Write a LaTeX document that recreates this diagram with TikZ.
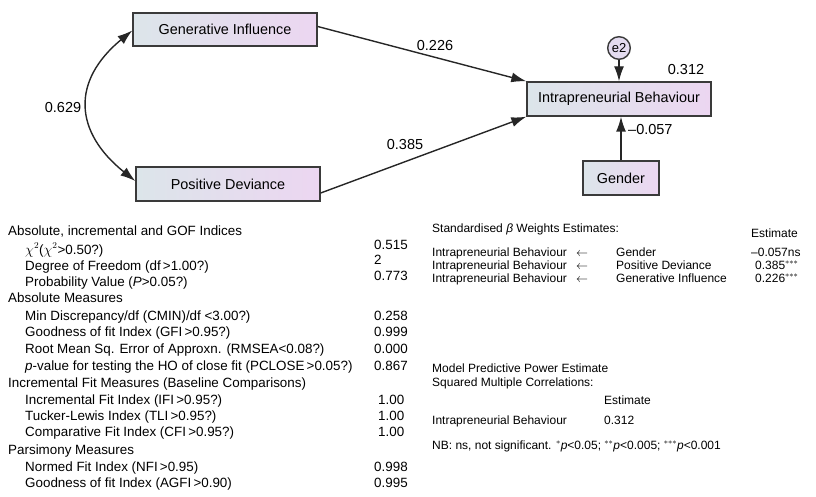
\documentclass[tikz,border=0pt]{standalone}
\usepackage{fontspec}
\setmainfont{Liberation Sans}
\usetikzlibrary{arrows.meta,calc}
\definecolor{boxL}{HTML}{DCE5EA}
\definecolor{boxR}{HTML}{ECD6F1}
\definecolor{edge}{HTML}{3A3A3A}
\definecolor{errfill}{HTML}{E4DCF0}
\tikzset{
  var/.style={draw=edge, line width=1.4pt, left color=boxL, right color=boxR, inner sep=0pt, font=\fontsize{14.4}{16}\selectfont},
  err/.style={draw=edge, line width=1.4pt, circle, fill=errfill, minimum size=22.6pt, inner sep=0pt, font=\fontsize{13}{14}\selectfont},
  path/.style={draw=black!85, line width=1.4pt, -{Latex[length=15pt,width=10pt]}},
  coef/.style={font=\fontsize{14.5}{16}\selectfont, inner sep=0pt},
  tl/.style={anchor=base west, inner sep=0pt, font=\fontsize{13.4}{15}\selectfont},
  tr/.style={anchor=base west, inner sep=0pt, font=\fontsize{12}{13}\selectfont},
}
\begin{document}
\begin{tikzpicture}[x=1pt,y=-1pt]
\useasboundingbox (0,0) rectangle (816,497);
% boxes
\node[var, minimum width=184pt, minimum height=33pt] (GI) at (225,29.5) {Generative Influence};
\node[var, minimum width=184pt, minimum height=34pt] (PD) at (228,184) {Positive Deviance};
\node[var, minimum width=184pt, minimum height=34pt] (IB) at (619,99) {Intrapreneurial Behaviour};
\node[var, minimum width=76pt, minimum height=34pt] (G) at (621,178) {Gender};
\node[err] (e2) at (619,48) {e2};
% paths
\draw[path] ([yshift=3pt]GI.east) -- (IB.north west);
\draw[path] ([yshift=-9pt]PD.east) -- (IB.south west);
\draw[path] (e2) -- (e2 |- IB.north);
\draw[path] (G) -- (G |- IB.south);
\draw[draw=black!85, line width=1.4pt, {Latex[length=15pt,width=10pt]}-{Latex[length=15pt,width=10pt]}]
  ([yshift=-1pt]GI.west) .. controls (71,81) and (74,132) .. ([yshift=3pt]PD.west);
% coefficients
\node[coef] (c1) at (63,108) {0.629};
\node[coef] (c2) at (435,46) {0.226};
\node[coef] (c3) at (405,145) {0.385};
\node[coef] (c4) at (686,70) {0.312};
\node[coef, anchor=west] (c5) at (628,130) {\textendash0.057};
% left table
\node[tl] (h1) at (8,235) {Absolute, incremental and GOF Indices};
\node[tl] (r1) at (25,254) {$\chi^2$($\chi^2$>0.50?)};
\node[tl] (r2) at (25,270) {Degree of Freedom (df\,>1.00?)};
\node[tl] (r3) at (25,286) {Probability Value (\textit{P}>0.05?)};
\node[tl] (v1) at (374,249) {0.515};
\node[tl] (v2) at (374,264) {2};
\node[tl] (v3) at (374,280) {0.773};
\node[tl] (h2) at (8,302) {Absolute Measures};
\node[tl] (r4) at (25,320) {Min Discrepancy/df (CMIN)/df <3.00?)};
\node[tl] (r5) at (25,336) {Goodness of fit Index (GFI\,>0.95?)};
\node[tl] (r6) at (25,353) {Root Mean Sq. Error of Approxn. (RMSEA<0.08?)};
\node[tl] (r7) at (25,370) {\textit{p}-value for testing the HO of close fit (PCLOSE\,>0.05?)};
\node[tl] (v4) at (374,320) {0.258};
\node[tl] (v5) at (374,336) {0.999};
\node[tl] (v6) at (374,353) {0.000};
\node[tl] (v7) at (374,370) {0.867};
\node[tl] (h3) at (8,387) {Incremental Fit Measures (Baseline Comparisons)};
\node[tl] (r8) at (25,404) {Incremental Fit Index (IFI\,>0.95?)};
\node[tl] (r9) at (25,420) {Tucker-Lewis Index (TLI\,>0.95?)};
\node[tl] (r10) at (25,436) {Comparative Fit Index (CFI\,>0.95?)};
\node[tl] (v8) at (378,404) {1.00};
\node[tl] (v9) at (378,420) {1.00};
\node[tl] (v10) at (378,436) {1.00};
\node[tl] (h4) at (8,454) {Parsimony Measures};
\node[tl] (r11) at (25,471) {Normed Fit Index (NFI\,>0.95)};
\node[tl] (r12) at (25,487) {Goodness of fit Index (AGFI\,>0.90)};
\node[tl] (v11) at (374,471) {0.998};
\node[tl] (v12) at (374,487) {0.995};
% right table
\node[tr] (s1) at (432,232) {Standardised \textit{β} Weights Estimates:};
\node[tr] (s2) at (751,237) {Estimate};
\node[tr] (a1) at (432,256) {Intrapreneurial Behaviour};
\node[tr] (a2) at (432,269) {Intrapreneurial Behaviour};
\node[tr] (a3) at (432,282) {Intrapreneurial Behaviour};
\node[tr] (b1) at (576,256) {$\leftarrow$};
\node[tr] (b2) at (576,269) {$\leftarrow$};
\node[tr] (b3) at (576,282) {$\leftarrow$};
\node[tr] (d1) at (616,256) {Gender};
\node[tr] (d2) at (616,269) {Positive Deviance};
\node[tr] (d3) at (616,282) {Generative Influence};
\node[tr] (f1) at (751,256) {\textendash0.057ns};
\node[tr] (f2) at (755,269) {0.385$^{***}$};
\node[tr] (f3) at (755,282) {0.226$^{***}$};
\node[tr] (m1) at (432,372) {Model Predictive Power Estimate};
\node[tr] (m2) at (432,386) {Squared Multiple Correlations:};
\node[tr] (m3) at (604,404) {Estimate};
\node[tr] (m4) at (432,424) {Intrapreneurial Behaviour};
\node[tr] (m5) at (604,424) {0.312};
\node[tr] (nb) at (432,449) {NB: ns, not significant. $^{*}$\textit{p}<0.05; $^{**}$\textit{p}<0.005; $^{***}$\textit{p}<0.001};
\end{tikzpicture}
\end{document}
